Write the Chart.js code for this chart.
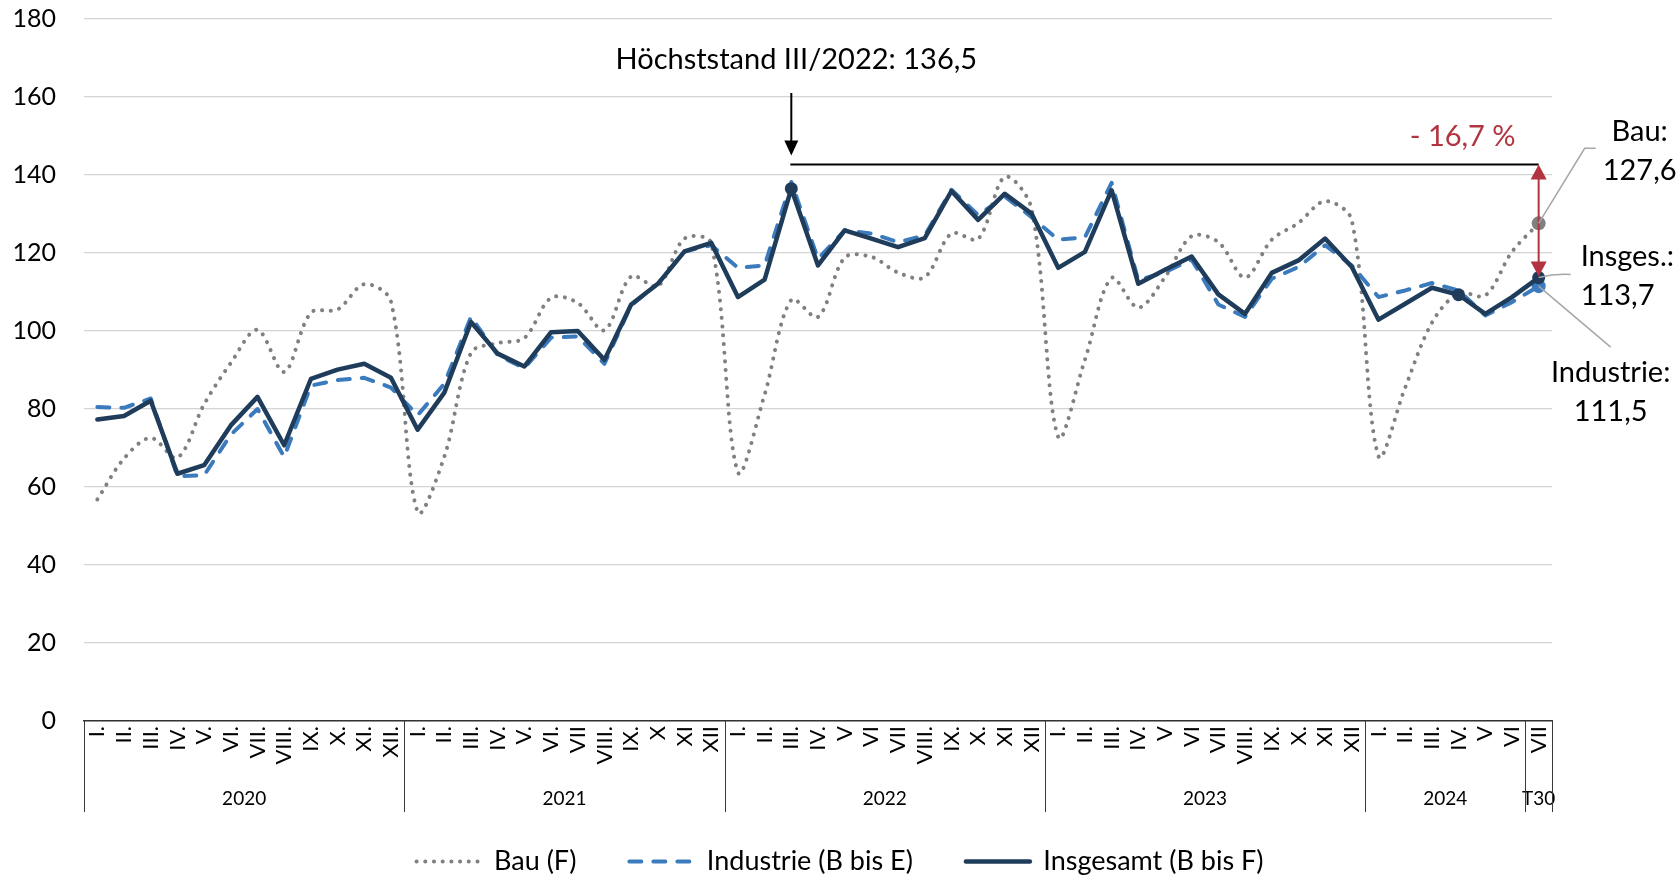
<!DOCTYPE html>
<html lang="de">
<head>
<meta charset="utf-8">
<title>Produktion im Produzierenden Gewerbe</title>
<script src="https://cdn.jsdelivr.net/npm/chart.js@4.4.1/dist/chart.umd.min.js"></script>
<style>
  html, body { margin: 0; padding: 0; background: #fff; }
  #wrap { width: 1680px; height: 877px; }
</style>
</head>
<body>
<div id="wrap"><canvas id="chart" width="1680" height="877"></canvas></div>
<script>
// Monate (Kategorien)
const months = [
    'I.', 'II.', 'III.', 'IV.', 'V.', 'VI.', 'VII.', 'VIII.', 'IX.', 'X.', 'XI.', 'XII.',
    'I.', 'II.', 'III.', 'IV.', 'V.', 'VI.', 'VII', 'VIII.', 'IX.', 'X', 'XI', 'XII',
    'I.', 'II.', 'III.', 'IV.', 'V', 'VI', 'VII', 'VIII.', 'IX.', 'X.', 'XI', 'XII',
    'I.', 'II.', 'III.', 'IV.', 'V', 'VI', 'VII', 'VIII.', 'IX.', 'X.', 'XI', 'XII',
    'I.', 'II.', 'III.', 'IV.', 'V', 'VI',
    'VII'
];
// Jahresgruppen unter der Achse
const years = ['2020', '2021', '2022', '2023', '2024', 'T30'];
const yearSpans = [12, 12, 12, 12, 6, 1];

// Reihen
const bau = [
    56.8, 67.3, 72.6, 67.5, 81.2, 91.8, 100.3, 89.5, 104.7, 105.5, 112.0, 107.6,
    53.6, 67.8, 94.4, 96.9, 98.2, 108.5, 107.2, 100.2, 114.0, 111.5, 123.7, 122.5,
    63.8, 83.7, 108.0, 103.6, 118.8, 119.0, 115.0, 113.8, 125.0, 123.6, 139.5, 131.4,
    72.8, 92.6, 113.6, 106.0, 113.8, 124.3, 122.8, 113.7, 123.4, 127.7, 133.3, 128.4,
    67.9, 85.5, 102.1, 109.7, 109.1, 120.3,
    127.6
];
const industrie = [
    80.5, 80.3, 82.7, 62.8, 63.0, 73.4, 80.0, 67.7, 86.0, 87.4, 88.0, 85.5,
    78.4, 86.5, 103.6, 93.8, 90.5, 98.3, 98.6, 91.6, 106.6, 112.1, 120.4, 122.0,
    116.2, 116.8, 138.2, 118.5, 125.8, 125.0, 122.8, 124.5, 136.2, 129.7, 134.5, 129.2,
    123.4, 124.0, 138.0, 113.0, 115.1, 118.3, 106.8, 103.6, 113.4, 116.4, 122.0, 116.8,
    108.7, 110.4, 112.3, 110.4, 104.0, 107.4,
    111.5
];
const insgesamt = [
    77.3, 78.2, 82.1, 63.4, 65.6, 75.8, 83.1, 70.7, 87.7, 90.1, 91.6, 88.0,
    74.7, 84.2, 102.3, 94.2, 90.9, 99.7, 100.0, 92.6, 106.8, 112.1, 120.4, 122.6,
    108.7, 113.2, 136.5, 116.8, 125.8, 123.7, 121.5, 123.8, 135.9, 128.5, 135.2, 130.1,
    116.2, 120.3, 136.1, 112.1, 115.7, 119.1, 109.4, 104.4, 114.9, 118.1, 123.7, 116.4,
    102.9, 107.0, 111.1, 109.3, 104.4, 108.7,
    113.7
];

const yMin = 0;
const yMax = 180;
const yStep = 20;

const peakIndex = 26;        // III/2022
const lastIndex = 54;        // VII/2024
const peakLineValue = 142.7; // Höhe der waagerechten Linie
const insgesamtMarks = [26, 51, 54];

// Farben
const colBau = '#808080';
const colIndustrie = '#3b7bbd';
const colInsgesamt = '#1f3d5b';
const colRed = '#b23441';
const FONT = 'Lato, "Open Sans", sans-serif';

const PLOT_BOTTOM = 721;
const LEGEND_SHIFT = 8;

const fmt = v => v.toFixed(1).replace('.', ',');

// Beschriftung der Jahre unter den Monaten
const yearGroups = {
    id: 'yearGroups',
    afterLayout(chart) {
        // Legende über die ganze Breite zentrieren und etwas tiefer setzen
        const lg = chart.legend;
        lg.left = 0;
        lg.right = chart.width;
        lg.width = chart.width;
        lg.top += LEGEND_SHIFT;
        lg.bottom += LEGEND_SHIFT;
    },
    afterDraw(chart) {
        const { ctx, scales: { x } } = chart;
        const half = (x.getPixelForValue(1) - x.getPixelForValue(0)) / 2;
        const top = x.top;
        const bottom = top + 91;
        ctx.save();
        ctx.strokeStyle = '#3a3a3a';
        ctx.lineWidth = 1;
        ctx.fillStyle = '#000';
        ctx.font = '19px ' + FONT;
        ctx.textAlign = 'center';
        ctx.textBaseline = 'middle';
        let start = 0;
        const edge = i => Math.round(x.getPixelForValue(i) - half) + 0.5;
        ctx.beginPath();
        ctx.moveTo(edge(0), top);
        ctx.lineTo(edge(0), bottom);
        years.forEach((yr, g) => {
            const end = start + yearSpans[g];
            const xe = edge(end);
            ctx.moveTo(xe, top);
            ctx.lineTo(xe, bottom);
            const cx = (x.getPixelForValue(start) + x.getPixelForValue(end - 1)) / 2;
            ctx.fillText(yr, cx, top + 78);
            start = end;
        });
        ctx.stroke();
        ctx.restore();
    }
};

function arrowHead(ctx, x, tipY, dir, w, h) {
    ctx.beginPath();
    ctx.moveTo(x, tipY);
    ctx.lineTo(x - w, tipY - dir * h);
    ctx.lineTo(x + w, tipY - dir * h);
    ctx.closePath();
    ctx.fill();
}

// Pfeile, Linien und Texte
const annotations = {
    id: 'annotations',
    afterDatasetsDraw(chart) {
        const { ctx, scales: { x, y } } = chart;
        const px = x.getPixelForValue(peakIndex);
        const lx = x.getPixelForValue(lastIndex);
        const lineY = y.getPixelForValue(peakLineValue);
        const yBau = y.getPixelForValue(bau[lastIndex]);
        const yIns = y.getPixelForValue(insgesamt[lastIndex]);
        const yInd = y.getPixelForValue(industrie[lastIndex]);
        ctx.save();

        // Höchststand
        ctx.fillStyle = '#000';
        ctx.strokeStyle = '#000';
        ctx.font = '29px ' + FONT;
        ctx.textAlign = 'center';
        ctx.textBaseline = 'middle';
        ctx.fillText('Höchststand III/2022: ' + fmt(insgesamt[peakIndex]), px + 5, 60);
        ctx.lineWidth = 2;
        ctx.beginPath();
        ctx.moveTo(px, 93);
        ctx.lineTo(px, lineY - 18);
        ctx.stroke();
        arrowHead(ctx, px, lineY - 9, 1, 7, 15);

        ctx.beginPath();
        ctx.moveTo(px - 1, lineY);
        ctx.lineTo(lx, lineY);
        ctx.stroke();

        // Rückgang
        ctx.strokeStyle = colRed;
        ctx.fillStyle = colRed;
        ctx.lineWidth = 2;
        ctx.beginPath();
        ctx.moveTo(lx, lineY + 10);
        ctx.lineTo(lx, yIns - 10);
        ctx.stroke();
        arrowHead(ctx, lx, lineY, -1, 8, 15);
        arrowHead(ctx, lx, yIns - 1, 1, 8, 15);
        const pct = (insgesamt[lastIndex] / insgesamt[peakIndex] - 1) * 100;
        ctx.fillText('- ' + fmt(Math.abs(pct)) + ' %', lx - 76, lineY - 28);

        // Führungslinien
        ctx.strokeStyle = '#a6a6a6';
        ctx.lineWidth = 1.5;
        ctx.beginPath();
        ctx.moveTo(lx, yBau);
        ctx.lineTo(lx + 46, yBau - 75);
        ctx.lineTo(lx + 57, yBau - 75);
        ctx.moveTo(lx, yIns);
        ctx.quadraticCurveTo(lx + 16, yIns - 4, lx + 32, yIns - 3);
        ctx.moveTo(lx, yInd);
        ctx.lineTo(lx + 72, yInd + 61);
        ctx.stroke();

        // Endwerte
        ctx.fillStyle = '#000';
        ctx.textAlign = 'center';
        ctx.fillText('Bau:', lx + 101, yBau - 92);
        ctx.fillText(fmt(bau[lastIndex]), lx + 101, yBau - 53);
        ctx.textAlign = 'left';
        ctx.fillText('Insges.:', lx + 42, yIns - 21);
        ctx.fillText(fmt(insgesamt[lastIndex]), lx + 42, yIns + 18);
        ctx.textAlign = 'center';
        ctx.fillText('Industrie:', lx + 72, yInd + 86);
        ctx.fillText(fmt(industrie[lastIndex]), lx + 72, yInd + 125);
        ctx.restore();
    }
};

const marker = (marks, r) => ctx => marks.includes(ctx.dataIndex) ? r : 0;

new Chart(document.getElementById('chart'), {
    type: 'line',
    data: {
        labels: months,
        datasets: [{
            label: 'Bau (F)',
            data: bau,
            borderColor: colBau,
            backgroundColor: colBau,
            borderWidth: 4,
            borderDash: [0.1, 8.6],
            borderCapStyle: 'round',
            tension: 0.33,
            pointRadius: marker([lastIndex], 7),
            pointBorderWidth: 0,
            order: 3
        }, {
            label: 'Industrie (B bis E)',
            data: industrie,
            borderColor: colIndustrie,
            backgroundColor: colIndustrie,
            borderWidth: 4,
            borderDash: [12, 12],
            borderCapStyle: 'round',
            borderJoinStyle: 'round',
            tension: 0,
            pointRadius: marker([lastIndex], 7),
            pointBorderWidth: 0,
            order: 2
        }, {
            label: 'Insgesamt (B bis F)',
            data: insgesamt,
            borderColor: colInsgesamt,
            backgroundColor: colInsgesamt,
            borderWidth: 4.5,
            borderJoinStyle: 'round',
            borderCapStyle: 'round',
            tension: 0,
            pointRadius: marker(insgesamtMarks, 6.5),
            pointBorderWidth: 0,
            order: 1
        }]
    },
    options: {
        responsive: false,
        animation: false,
        devicePixelRatio: 1,
        layout: { padding: { left: 0, right: 128, top: 19, bottom: 0 } },
        plugins: {
            tooltip: { enabled: false },
            legend: {
                position: 'bottom',
                labels: {
                    font: { family: FONT, size: 27 },
                    color: '#000',
                    usePointStyle: true,
                    pointStyleWidth: 64,
                    padding: 53,
                    sort: (a, b) => a.datasetIndex - b.datasetIndex,
                    generateLabels: chart => chart.data.datasets.map((ds, i) => ({
                        text: ds.label,
                        datasetIndex: i,
                        strokeStyle: ds.borderColor,
                        fillStyle: ds.borderColor,
                        lineWidth: ds.borderWidth,
                        lineDash: ds.borderDash || [],
                        lineCap: ds.borderCapStyle || 'butt',
                        pointStyle: 'line',
                        hidden: !chart.isDatasetVisible(i),
                        fontColor: '#000'
                    }))
                }
            }
        },
        scales: {
            x: {
                offset: true,
                grid: { display: false, drawTicks: false },
                border: { display: true, color: '#333', width: 1.5 },
                ticks: {
                    autoSkip: false,
                    maxRotation: 90,
                    minRotation: 90,
                    padding: 5,
                    color: '#000',
                    font: { family: FONT, size: 22 }
                },
                afterFit: s => { s.height = s.chart.height - PLOT_BOTTOM - s.chart.legend.height; }
            },
            y: {
                min: yMin,
                max: yMax,
                grid: {
                    color: '#d4d4d4',
                    lineWidth: 1.3,
                    drawTicks: true,
                    tickLength: 28,
                    tickColor: 'rgba(0,0,0,0)'
                },
                border: { display: false },
                ticks: {
                    stepSize: yStep,
                    padding: 0,
                    color: '#000',
                    font: { family: FONT, size: 25 }
                },
                afterFit: s => { s.width = 84; }
            }
        }
    },
    plugins: [yearGroups, annotations]
});
</script>
</body>
</html>
